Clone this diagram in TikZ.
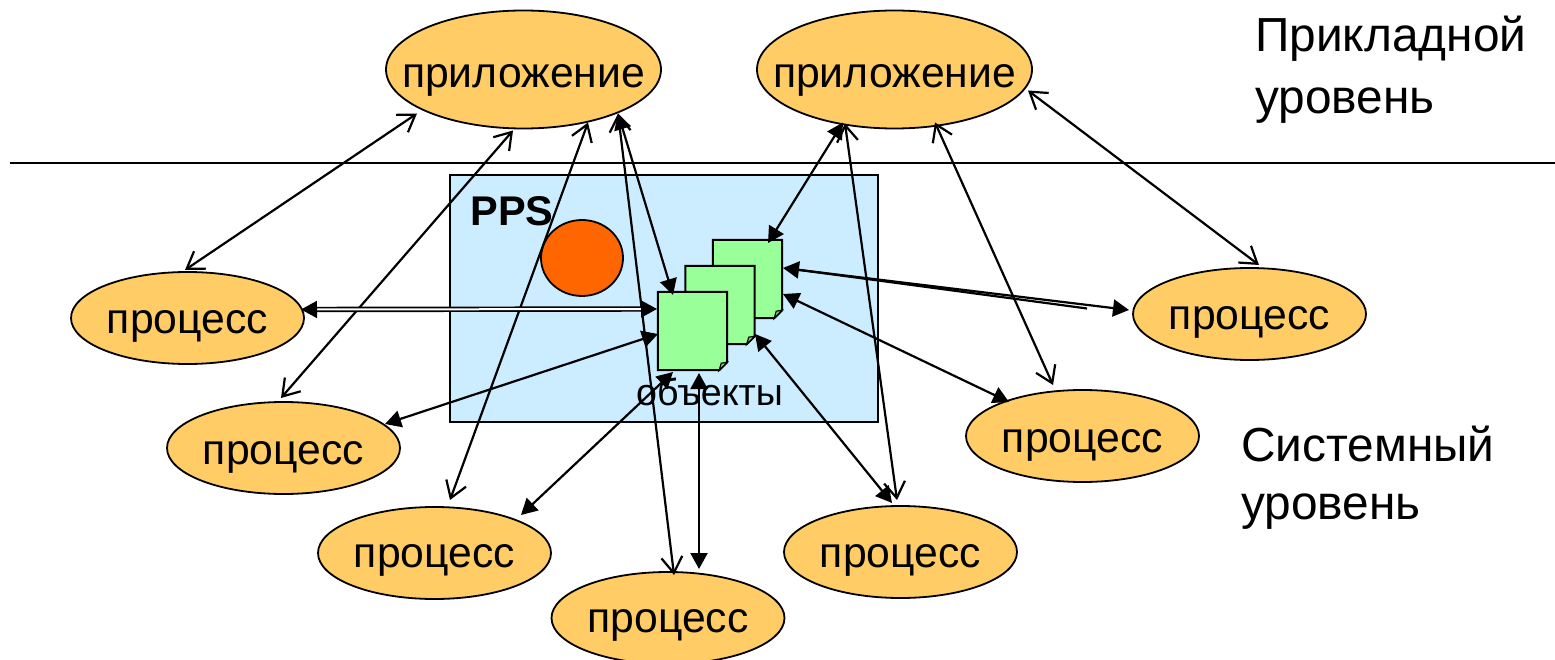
\documentclass[tikz,border=0pt]{standalone}
\usepackage{fontspec}
\setmainfont{Liberation Sans}
\usetikzlibrary{arrows.meta,shapes.geometric}
\newcommand{\fsz}[1]{\fontsize{#1}{#1}\selectfont}
\newcommand{\offs}[3]{([shift={(#2,#3)}]#1.center)}
\newcommand{\lbl}[2]{\smash{\raisebox{-#1pt}{\makebox[0pt]{#2}}}}
\newcommand{\docshape}[1]{%
  \draw[docline,fill=docgreen] (#1.north west) -- (#1.north east) -- ([shift={(0,-8)}]#1.south east) -- ([shift={(-8,0)}]#1.south east) -- (#1.south west) -- cycle;
  \draw[line width=1.2pt,fill=docfold] ([shift={(-8,0)}]#1.south east) -- ([shift={(-6,-7)}]#1.south east) -- ([shift={(0,-8)}]#1.south east) -- cycle;}
\definecolor{ellfill}{HTML}{FFCC66}
\definecolor{boxfill}{HTML}{CCECFF}
\definecolor{orangefill}{HTML}{FF6600}
\definecolor{docgreen}{HTML}{99FF99}
\definecolor{docfold}{HTML}{7ACC7A}
\tikzset{
  x=1pt,y=-1pt,
  proc/.style={ellipse,draw,line width=1.8pt,fill=ellfill,minimum width=233pt,minimum height=92pt,inner sep=0pt,font=\fsz{42.7}},
  app/.style={ellipse,draw,line width=1.8pt,fill=ellfill,minimum width=275pt,minimum height=118pt,inner sep=0pt,font=\fsz{42.7}},
  docnode/.style={rectangle,minimum width=69pt,minimum height=78pt,inner sep=0pt},
  docline/.style={line width=2pt,line join=miter},
  link/.style={line width=2.2pt},
  openboth/.style={link,{Straight Barb[length=16pt,width=21pt,line width=2.2pt]}-{Straight Barb[length=16pt,width=21pt,line width=2.2pt]}},
  fillboth/.style={link,{Triangle[length=16pt,width=17pt]}-{Triangle[length=16pt,width=17pt]}},
  lefttext/.style={align=left,anchor=north west,inner sep=0pt,font=\fsz{47.8}},
}
\begin{document}
\begin{tikzpicture}
\useasboundingbox (0,0) rectangle (1555,660);
\coordinate (ruleL) at (10,163);
\coordinate (ruleR) at (1555,163);
\draw[line width=1.8pt] (ruleL) -- (ruleR);
\node[rectangle,draw,line width=2pt,fill=boxfill,minimum width=428pt,minimum height=247pt,inner sep=0pt] (box) at (664,298.5) {};
\node[font=\bfseries\fsz{41.5},anchor=center,inner sep=0pt] (pps) at (512,211) {PPS};
\node[ellipse,draw,line width=1.8pt,fill=orangefill,minimum width=82pt,minimum height=76pt,inner sep=0pt] (dot) at (582,258) {};
\node[app] (A1) at (523.5,69.5) {\lbl{18}{приложение}};
\node[app] (A2) at (894.5,69.5) {\lbl{18}{приложение}};
\node[proc] (P1) at (187.5,318) {\lbl{16}{процесс}};
\node[proc] (P2) at (283.5,448) {\lbl{16.5}{процесс}};
\node[proc] (P3) at (434.5,553) {\lbl{14}{процесс}};
\node[proc] (P4) at (668,618) {\lbl{14}{процесс}};
\node[proc] (P5) at (900.5,552) {\lbl{15}{процесс}};
\node[proc] (P6) at (1082.5,436) {\lbl{16}{процесс}};
\node[proc] (P7) at (1249.5,314) {\lbl{16}{процесс}};
\node[docnode] (DB) at (747.5,279) {};
\node[docnode] (DM) at (720,305) {};
\node[docnode] (DF) at (692.5,331) {};
\docshape{DB}
\docshape{DM}
\docshape{DF}
\node[font=\fsz{37.6},inner sep=0pt] (objlabel) at (709.5,392) {объекты};
\node[lefttext] (top) at (1255,16) {Прикладной\\[14pt]уровень};
\node[lefttext] (bottom) at (1241,426) {Системный\\[10pt]уровень};
% application - process links
\draw[openboth] \offs{A1}{-106.5}{44} -- \offs{P1}{-2.5}{-48};
\draw[openboth] \offs{A1}{-10.5}{61} -- \offs{P2}{-2.5}{-50};
\draw[openboth] \offs{A1}{64.5}{53} -- \offs{P3}{15.5}{-53};
\draw[openboth] \offs{A1}{94.5}{44} -- \offs{P4}{6}{-43};
\draw[openboth] \offs{A2}{-49.5}{54} -- \offs{P5}{-3.5}{-52};
\draw[openboth] \offs{A2}{40.5}{53} -- \offs{P6}{-29.5}{-51};
\draw[openboth] \offs{A2}{133.5}{21} -- \offs{P7}{9.5}{-49};
% application - object links
\draw[fillboth] \offs{A1}{94.5}{44} -- \offs{DF}{-19.5}{-36};
\draw[fillboth] \offs{A2}{-51.5}{53} -- \offs{DB}{20.5}{-36};
% process - object links
\draw[fillboth,double,line width=1.7pt,double distance=2pt] \offs{P1}{113.5}{-8.5} -- \offs{DF}{-35.5}{-22};
\draw[fillboth] \offs{DB}{35.5}{-11} -- \offs{P7}{-120.5}{-4};
\draw[link] \offs{DB}{37.5}{-11} -- \offs{P7}{-162.5}{-5.5};
\draw[fillboth] \offs{P2}{101.5}{-24} -- \offs{DF}{-34.5}{3};
\draw[fillboth] \offs{P3}{86.5}{-38} -- \offs{DF}{-19.5}{41};
\draw[fillboth] \offs{DF}{6.5}{42} -- \offs{P4}{31}{-49};
\draw[fillboth] \offs{DM}{35}{29} -- \offs{P5}{-8.5}{-49};
\draw[fillboth] \offs{DB}{35.5}{15} -- \offs{P6}{-73.5}{-34};
\end{tikzpicture}
\end{document}
